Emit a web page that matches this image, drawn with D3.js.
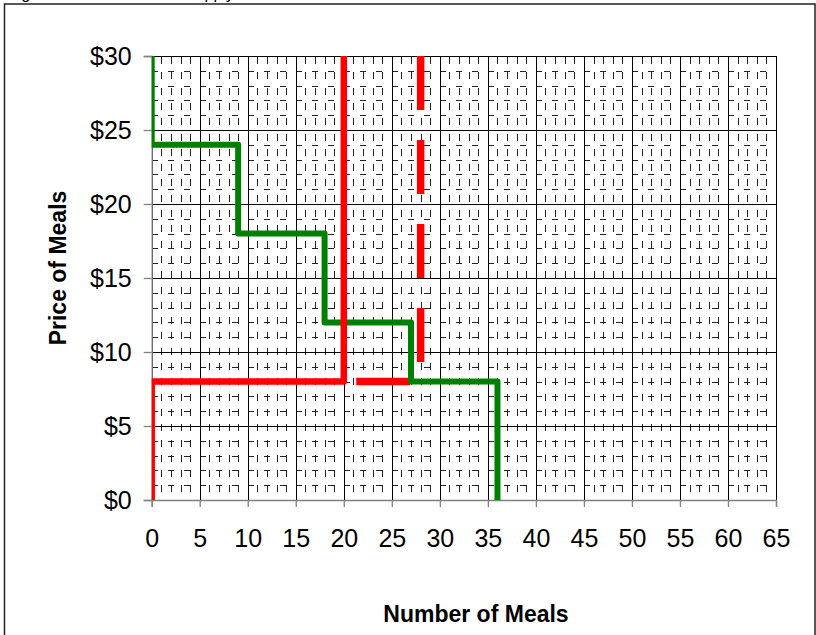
<!DOCTYPE html>
<html><head><meta charset="utf-8">
<script src="https://cdn.jsdelivr.net/npm/d3@7"></script>
<style>
html,body{margin:0;padding:0;background:#fff;}
svg text{font-family:"Liberation Sans",Arial,sans-serif;}
</style></head>
<body><svg id="c" width="816" height="635"></svg>
<script>
// ---- data ----
const titleText = "Figure 4.1: Demand and Supply";
const xTickValues = [0,5,10,15,20,25,30,35,40,45,50,55,60,65];
const yTickValues = [0,5,10,15,20,25,30];
const yTickLabels = ["$0","$5","$10","$15","$20","$25","$30"];
const demandQ = [0,0,9,9,18,18,27,27,36,36];
const demandP = [30,24,24,18,18,12,12,8,8,0];
const supplyQ = [0,0,20,20];
const supplyP = [0,8,8,30];
const supply2Q = [28,28,20];
const supply2P = [30,8,8];
const xLabel = "Number of Meals";
const yLabel = "Price of Meals";

const svg = d3.select("#c");
const L = 151.7, R = 776, T = 56, B = 500;
const x = d3.scaleLinear().domain([0,65]).range([L,R]);
const y = d3.scaleLinear().domain([0,30]).range([B,T]);
const px = v => Math.round(v) + 0.5;

// outer frame
svg.append("rect").attr("x",4.5).attr("y",4).attr("width",810.5).attr("height",700)
  .attr("fill","none").attr("stroke","#222").attr("stroke-width",1.5);
// title fragment (cut at top, as in the reference)
svg.append("text").attr("x",8).attr("y",-1).attr("font-size",16).text(titleText);

const defs = svg.append("defs");
defs.append("clipPath").attr("id","pc").append("rect")
  .attr("x",L).attr("y",T).attr("width",R-L).attr("height",B-T);

const g = svg.append("g").attr("shape-rendering","crispEdges");
// minor gridlines (dashed)
const minorX = d3.range(0,66).filter(v=>v%5!==0);
const minorY = d3.range(0,31).filter(v=>v%5!==0);
g.selectAll(".mx").data(minorX).join("line")
  .attr("x1",d=>px(x(d))).attr("x2",d=>px(x(d))).attr("y1",T).attr("y2",B)
  .attr("stroke","#222").attr("stroke-width",1)
  .attr("stroke-dasharray","7,8.3").attr("stroke-dashoffset",14.3);
g.selectAll(".my").data(minorY).join("line")
  .attr("x1",L).attr("x2",R).attr("y1",d=>px(y(d))).attr("y2",d=>px(y(d)))
  .attr("stroke","#222").attr("stroke-width",1)
  .attr("stroke-dasharray","6.5,9.5");
// major gridlines
g.selectAll(".Mx").data(xTickValues).join("line")
  .attr("x1",d=>px(x(d))).attr("x2",d=>px(x(d))).attr("y1",T).attr("y2",B)
  .attr("stroke","#000").attr("stroke-width",1);
g.selectAll(".My").data(yTickValues).join("line")
  .attr("x1",L).attr("x2",R).attr("y1",d=>px(y(d))).attr("y2",d=>px(y(d)))
  .attr("stroke","#000").attr("stroke-width",1);

// axes
const xAxis = d3.axisBottom(x).tickValues(xTickValues).tickSize(7).tickPadding(22);
const yAxis = d3.axisLeft(y).tickValues(yTickValues).tickSize(8).tickPadding(12)
  .tickFormat((d,i)=>yTickLabels[i]);
const gx = svg.append("g").attr("transform",`translate(0,${B})`).call(xAxis);
const gy = svg.append("g").attr("transform",`translate(${L},0)`).call(yAxis);
[gx,gy].forEach(a=>{
  a.select(".domain").attr("stroke","#808080").attr("stroke-width",1.3);
  a.selectAll(".tick line").attr("stroke","#808080").attr("stroke-width",1.3);
  a.selectAll(".tick text").attr("font-size",25).attr("fill","#000")
    .style("font-family","'Liberation Sans',Arial,sans-serif");
});

// lines
const line = d3.line().x(d=>x(d[0])).y(d=>y(d[1])).curve(d3.curveLinear);
const lines = svg.append("g").attr("clip-path","url(#pc)");
const s2 = supply2Q.map((q,i)=>[q,supply2P[i]]);
const dm = demandQ.map((q,i)=>[q,demandP[i]]);
const s1 = supplyQ.map((q,i)=>[q,supplyP[i]]);
lines.append("path").attr("d",line(s2)).attr("fill","none").attr("stroke","#ff0000")
  .attr("stroke-width",7.5).attr("stroke-dasharray","54,30").attr("stroke-dashoffset",84);
lines.append("path").attr("d",line(dm)).attr("fill","none").attr("stroke","#008000")
  .attr("stroke-width",6).attr("stroke-linejoin","round");
lines.append("path").attr("d",line(s1)).attr("fill","none").attr("stroke","#ff0000")
  .attr("stroke-width",6.5).attr("stroke-linejoin","round");

// axis titles
svg.append("text").attr("x",476).attr("y",622).attr("text-anchor","middle")
  .attr("font-size",23).attr("font-weight","bold").text(xLabel);
svg.append("text").attr("transform","translate(66,268) rotate(-90)").attr("text-anchor","middle")
  .attr("font-size",23).attr("font-weight","bold").text(yLabel);
</script></body></html>
